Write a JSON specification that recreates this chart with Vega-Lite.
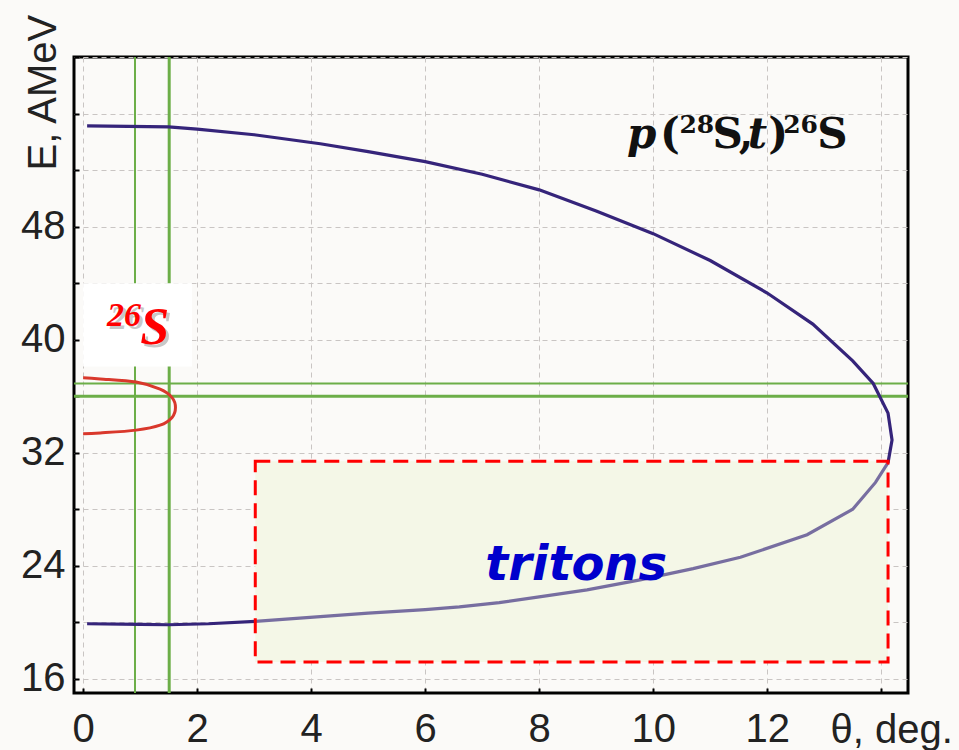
{
  "$schema": "https://vega.github.io/schema/vega-lite/v6.json",
  "autosize": "none",
  "width": 834,
  "height": 636,
  "padding": {"left": 74, "top": 57, "right": 51, "bottom": 57},
  "background": "#fbfaf8",
  "config": {
    "view": {"stroke": "#000000", "strokeWidth": 3},
    "axis": {
      "domain": false,
      "grid": true,
      "gridColor": "#c9c5c3",
      "gridDash": [5, 4],
      "gridWidth": 1,
      "ticks": true,
      "tickColor": "#000000",
      "tickWidth": 2,
      "tickSize": -5,
      "labelFont": "Liberation Sans",
      "labelFontSize": 40,
      "labelColor": "#222222",
      "titleFont": "Liberation Sans",
      "titleFontSize": 40,
      "titleFontWeight": "normal",
      "titleColor": "#222222"
    }
  },
  "datasets": {
    "curve": [
      {"seg": "A", "i": 1, "theta": 0.07, "E": 19.9},
      {"seg": "A", "i": 2, "theta": 1.0, "E": 19.85},
      {"seg": "A", "i": 3, "theta": 1.5, "E": 19.83},
      {"seg": "A", "i": 4, "theta": 2.2, "E": 19.9},
      {"seg": "A", "i": 5, "theta": 3.02, "E": 20.07},
      {"seg": "B", "i": 6, "theta": 3.02, "E": 20.07},
      {"seg": "B", "i": 7, "theta": 4.16, "E": 20.4},
      {"seg": "B", "i": 8, "theta": 5.0, "E": 20.65},
      {"seg": "B", "i": 9, "theta": 6.0, "E": 20.9},
      {"seg": "B", "i": 10, "theta": 6.6, "E": 21.1},
      {"seg": "B", "i": 11, "theta": 7.3, "E": 21.4},
      {"seg": "B", "i": 12, "theta": 8.0, "E": 21.8},
      {"seg": "B", "i": 13, "theta": 8.84, "E": 22.3},
      {"seg": "B", "i": 14, "theta": 9.77, "E": 23.0},
      {"seg": "B", "i": 15, "theta": 10.7, "E": 23.8},
      {"seg": "B", "i": 16, "theta": 11.53, "E": 24.6},
      {"seg": "B", "i": 17, "theta": 12.7, "E": 26.2},
      {"seg": "B", "i": 18, "theta": 13.5, "E": 28.0},
      {"seg": "B", "i": 19, "theta": 13.9, "E": 29.9},
      {"seg": "B", "i": 20, "theta": 14.12, "E": 31.3},
      {"seg": "C", "i": 21, "theta": 14.12, "E": 31.3},
      {"seg": "C", "i": 22, "theta": 14.19, "E": 32.9},
      {"seg": "C", "i": 23, "theta": 14.12, "E": 34.8},
      {"seg": "C", "i": 24, "theta": 13.86, "E": 36.9},
      {"seg": "C", "i": 25, "theta": 13.5, "E": 38.5},
      {"seg": "C", "i": 26, "theta": 12.8, "E": 41.1},
      {"seg": "C", "i": 27, "theta": 12.0, "E": 43.3},
      {"seg": "C", "i": 28, "theta": 11.0, "E": 45.6},
      {"seg": "C", "i": 29, "theta": 10.0, "E": 47.5},
      {"seg": "C", "i": 30, "theta": 9.0, "E": 49.1},
      {"seg": "C", "i": 31, "theta": 8.0, "E": 50.6},
      {"seg": "C", "i": 32, "theta": 7.0, "E": 51.7},
      {"seg": "C", "i": 33, "theta": 6.0, "E": 52.6},
      {"seg": "C", "i": 34, "theta": 5.0, "E": 53.3},
      {"seg": "C", "i": 35, "theta": 4.16, "E": 53.86},
      {"seg": "C", "i": 36, "theta": 3.0, "E": 54.5},
      {"seg": "C", "i": 37, "theta": 2.0, "E": 54.9},
      {"seg": "C", "i": 38, "theta": 1.5, "E": 55.06},
      {"seg": "C", "i": 39, "theta": 0.07, "E": 55.12}
    ],
    "ellipse": [
      {"i": 1, "theta": 0.0, "E": 37.3},
      {"i": 2, "theta": 0.3, "E": 37.22},
      {"i": 3, "theta": 0.93, "E": 37.0},
      {"i": 4, "theta": 1.35, "E": 36.5},
      {"i": 5, "theta": 1.56, "E": 35.9},
      {"i": 6, "theta": 1.62, "E": 35.2},
      {"i": 7, "theta": 1.56, "E": 34.5},
      {"i": 8, "theta": 1.35, "E": 33.95},
      {"i": 9, "theta": 0.93, "E": 33.6},
      {"i": 10, "theta": 0.3, "E": 33.4},
      {"i": 11, "theta": 0.0, "E": 33.35}
    ]
  },
  "layer": [
    {
      "data": {"values": [{"x1": 3.02, "x2": 14.12, "y1": 17.2, "y2": 31.4}]},
      "mark": {"type": "rect", "fill": "#f4f7e7", "stroke": null},
      "encoding": {
        "x": {"field": "x1", "type": "quantitative",
          "scale": {"domain": [-0.16, 14.47], "nice": false, "zero": false},
          "axis": {"values": [0, 2, 4, 6, 8, 10, 12, 14],
            "format": "d",
            "labelExpr": "datum.value == 14 ? '' : datum.label",
            "labelPadding": 21,
            "title": "θ, deg.", "titleX": 756, "titleY": 49, "titleAlign": "left", "titleBaseline": "alphabetic", "titleAnchor": null}},
        "x2": {"field": "x2"},
        "y": {"field": "y1", "type": "quantitative",
          "scale": {"domain": [15, 60], "nice": false, "zero": false},
          "axis": {"values": [16, 20, 24, 28, 32, 36, 40, 44, 48, 52, 56, 60],
            "format": "d",
            "labelExpr": "indexof([16,24,32,40,48], datum.value) >= 0 ? datum.label : ''",
            "labelPadding": 14,
            "title": "E, AMeV", "titleAngle": 270, "titleX": -19, "titleY": 113, "titleAlign": "left", "titleBaseline": "alphabetic", "titleAnchor": null}},
        "y2": {"field": "y2"}
      }
    },
    {
      "data": {"values": [{"theta": 0.91}]},
      "mark": {"type": "rule", "color": "#6cae48", "strokeWidth": 2},
      "encoding": {"x": {"field": "theta", "type": "quantitative"}}
    },
    {
      "data": {"values": [{"theta": 1.51}]},
      "mark": {"type": "rule", "color": "#6cae48", "strokeWidth": 3},
      "encoding": {"x": {"field": "theta", "type": "quantitative"}}
    },
    {
      "data": {"values": [{"E": 36.9}]},
      "mark": {"type": "rule", "color": "#6cae48", "strokeWidth": 2},
      "encoding": {"y": {"field": "E", "type": "quantitative"}}
    },
    {
      "data": {"values": [{"E": 36.0}]},
      "mark": {"type": "rule", "color": "#6cae48", "strokeWidth": 3},
      "encoding": {"y": {"field": "E", "type": "quantitative"}}
    },
    {
      "data": {"values": [{"x1": 0.0, "x2": 1.91, "y1": 38.1, "y2": 44.0}]},
      "mark": {"type": "rect", "fill": "#ffffff", "stroke": null},
      "encoding": {
        "x": {"field": "x1", "type": "quantitative"},
        "x2": {"field": "x2"},
        "y": {"field": "y1", "type": "quantitative"},
        "y2": {"field": "y2"}
      }
    },
    {
      "data": {"name": "ellipse"},
      "mark": {"type": "line", "color": "#d9382c", "strokeWidth": 3, "interpolate": "cardinal"},
      "encoding": {
        "x": {"field": "theta", "type": "quantitative"},
        "y": {"field": "E", "type": "quantitative"},
        "order": {"field": "i", "type": "quantitative"}
      }
    },
    {
      "data": {"name": "curve"},
      "mark": {"type": "line", "strokeWidth": 3.2, "interpolate": "linear"},
      "encoding": {
        "x": {"field": "theta", "type": "quantitative"},
        "y": {"field": "E", "type": "quantitative"},
        "order": {"field": "i", "type": "quantitative"},
        "color": {"field": "seg", "type": "nominal",
          "scale": {"domain": ["A", "B", "C"], "range": ["#35247a", "#776ea0", "#35247a"]},
          "legend": null}
      }
    },
    {
      "data": {"values": [{"x1": 3.02, "x2": 14.12, "y1": 17.2, "y2": 31.4}]},
      "mark": {"type": "rect", "fill": null, "fillOpacity": 0, "stroke": "#ff0000", "strokeWidth": 3, "strokeDash": [15, 8]},
      "encoding": {
        "x": {"field": "x1", "type": "quantitative"},
        "x2": {"field": "x2"},
        "y": {"field": "y1", "type": "quantitative"},
        "y2": {"field": "y2"}
      }
    },
    {
      "data": {"values": [{"label": "tritons", "theta": 8.65, "E": 23.0}]},
      "mark": {"type": "text", "font": "DejaVu Sans", "fontWeight": "bold", "fontStyle": "italic", "fontSize": 48, "color": "#0000cc", "align": "center", "baseline": "alphabetic"},
      "encoding": {
        "x": {"field": "theta", "type": "quantitative"},
        "y": {"field": "E", "type": "quantitative"},
        "text": {"field": "label"}
      }
    },
    {
      "data": {"values": [{"label": "p", "theta": 9.54, "E": 53.58}, {"label": "t", "theta": 11.66, "E": 53.58}]},
      "mark": {"type": "text", "font": "DejaVu Serif", "fontWeight": "bold", "fontStyle": "italic", "fontSize": 42, "color": "#111111", "align": "left", "baseline": "alphabetic"},
      "encoding": {
        "x": {"field": "theta", "type": "quantitative"},
        "y": {"field": "E", "type": "quantitative"},
        "text": {"field": "label"}
      }
    },
    {
      "data": {"values": [{"label": "(", "theta": 10.12, "E": 53.58}, {"label": "S", "theta": 11.04, "E": 53.58}, {"label": ",", "theta": 11.5, "E": 53.58}, {"label": ")", "theta": 12.02, "E": 53.58}, {"label": "S", "theta": 12.88, "E": 53.58}]},
      "mark": {"type": "text", "font": "DejaVu Serif", "fontWeight": "bold", "fontSize": 42, "color": "#111111", "align": "left", "baseline": "alphabetic"},
      "encoding": {
        "x": {"field": "theta", "type": "quantitative"},
        "y": {"field": "E", "type": "quantitative"},
        "text": {"field": "label"}
      }
    },
    {
      "data": {"values": [{"label": "28", "theta": 10.46, "E": 54.63}, {"label": "26", "theta": 12.28, "E": 54.63}]},
      "mark": {"type": "text", "font": "DejaVu Serif", "fontWeight": "bold", "fontSize": 25, "color": "#111111", "align": "left", "baseline": "alphabetic"},
      "encoding": {
        "x": {"field": "theta", "type": "quantitative"},
        "y": {"field": "E", "type": "quantitative"},
        "text": {"field": "label"}
      }
    },
    {
      "data": {"values": [{"label": "26", "theta": 0.42, "E": 40.99}]},
      "mark": {"type": "text", "font": "Liberation Serif", "fontWeight": "bold", "fontStyle": "italic", "fontSize": 34, "color": "#777777", "opacity": 0.4, "dx": 3, "dy": 3, "align": "left", "baseline": "alphabetic"},
      "encoding": {
        "x": {"field": "theta", "type": "quantitative"},
        "y": {"field": "E", "type": "quantitative"},
        "text": {"field": "label"}
      }
    },
    {
      "data": {"values": [{"label": "S", "theta": 1.0, "E": 39.72}]},
      "mark": {"type": "text", "font": "Liberation Serif", "fontWeight": "bold", "fontStyle": "italic", "fontSize": 52, "color": "#777777", "opacity": 0.4, "dx": 3, "dy": 3, "align": "left", "baseline": "alphabetic"},
      "encoding": {
        "x": {"field": "theta", "type": "quantitative"},
        "y": {"field": "E", "type": "quantitative"},
        "text": {"field": "label"}
      }
    },
    {
      "data": {"values": [{"label": "26", "theta": 0.42, "E": 40.99}]},
      "mark": {"type": "text", "font": "Liberation Serif", "fontWeight": "bold", "fontStyle": "italic", "fontSize": 34, "color": "#ff0000", "align": "left", "baseline": "alphabetic"},
      "encoding": {
        "x": {"field": "theta", "type": "quantitative"},
        "y": {"field": "E", "type": "quantitative"},
        "text": {"field": "label"}
      }
    },
    {
      "data": {"values": [{"label": "S", "theta": 1.0, "E": 39.72}]},
      "mark": {"type": "text", "font": "Liberation Serif", "fontWeight": "bold", "fontStyle": "italic", "fontSize": 52, "color": "#ff0000", "align": "left", "baseline": "alphabetic"},
      "encoding": {
        "x": {"field": "theta", "type": "quantitative"},
        "y": {"field": "E", "type": "quantitative"},
        "text": {"field": "label"}
      }
    }
  ]
}
